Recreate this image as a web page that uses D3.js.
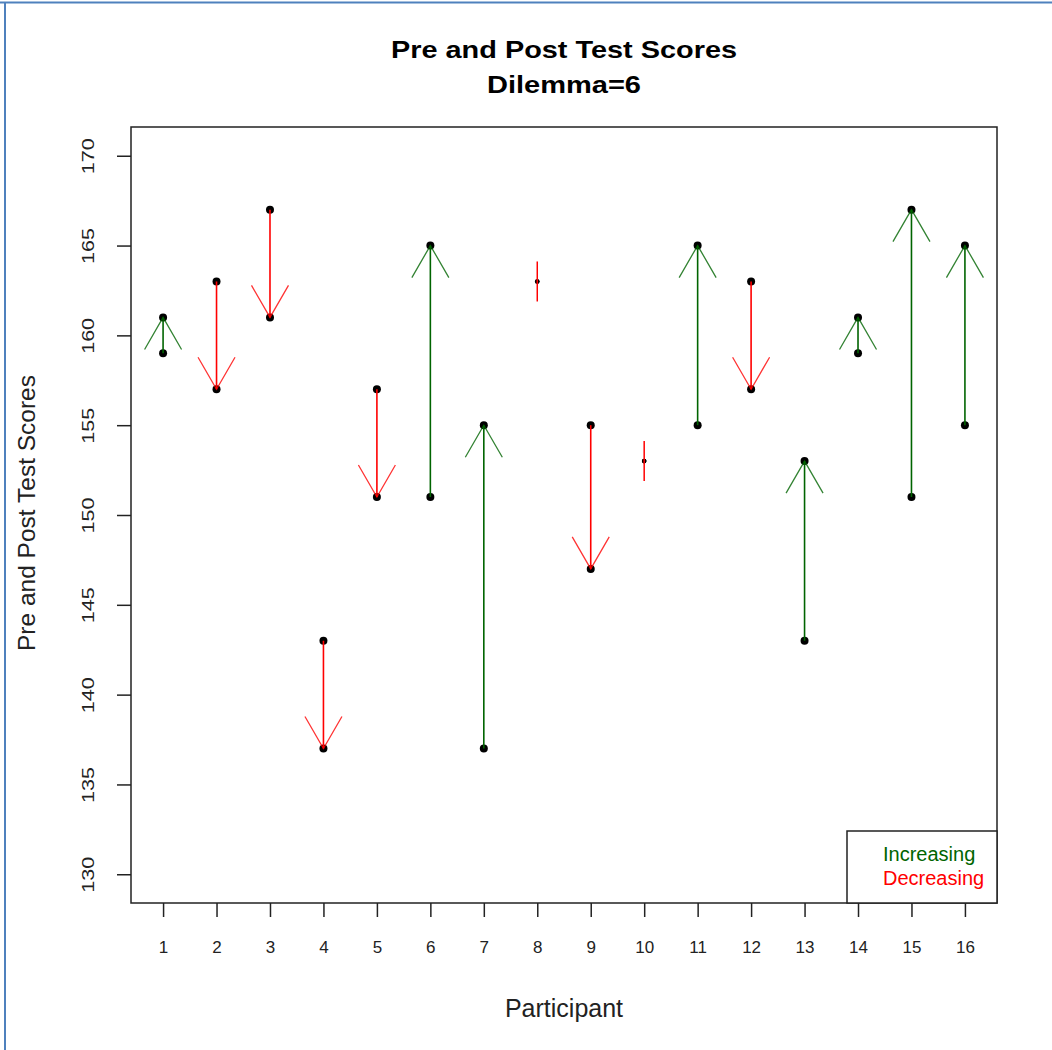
<!DOCTYPE html>
<html><head><meta charset="utf-8">
<script src="https://cdn.jsdelivr.net/npm/d3@7"></script>
<style>body{margin:0;background:#fff}svg{display:block}text{font-family:"Liberation Sans",Arial,sans-serif}</style>
</head><body>
<script>
const participants = [1,2,3,4,5,6,7,8,9,10,11,12,13,14,15,16];
const preScores  = [159,163,167,143,157,151,137,163,155,153,155,163,143,159,151,155];
const postScores = [161,157,161,137,151,165,155,163,147,153,165,157,153,161,167,165];
const yTicks = [130,135,140,145,150,155,160,165,170];
const legendLabels = ["Increasing","Decreasing"];
const colors = {inc:"#006400", dec:"#ff0000"};

const W=1052,H=1050;
const svg=d3.select("body").append("svg").attr("width",W).attr("height",H);
const L=131,R=997,T=127,B=903;

// screenshot frame
svg.append("line").attr("x1",0).attr("x2",W).attr("y1",2.5).attr("y2",2.5).attr("stroke","#4f81bd").attr("stroke-width",2);
svg.append("line").attr("x1",5).attr("x2",5).attr("y1",2).attr("y2",H).attr("stroke","#4f81bd").attr("stroke-width",2);

const x=d3.scaleLinear().domain([0.4,16.6]).range([L,R]);
const y=d3.scaleLinear().domain([128.4,171.6]).range([B,T]);

// title
svg.append("text").attr("x",(L+R)/2).attr("y",58).attr("text-anchor","middle").attr("font-weight","bold").attr("font-size",24)
  .attr("textLength",346).attr("lengthAdjust","spacingAndGlyphs").text("Pre and Post Test Scores");
svg.append("text").attr("x",(L+R)/2).attr("y",93).attr("text-anchor","middle").attr("font-weight","bold").attr("font-size",24)
  .attr("textLength",154).attr("lengthAdjust","spacingAndGlyphs").text("Dilemma=6");

// axes
const xAxis=d3.axisBottom(x).tickValues(participants).tickSize(14).tickSizeOuter(0).tickPadding(24);
const gx=svg.append("g").attr("transform",`translate(0,${B})`).call(xAxis);
gx.select(".domain").remove();
gx.selectAll("line").attr("stroke","#222").attr("stroke-width",1.5);
gx.selectAll("text").attr("font-size",17).attr("fill","#222");

const yAxis=d3.axisLeft(y).tickValues(yTicks).tickSize(14).tickSizeOuter(0);
const gy=svg.append("g").attr("transform",`translate(${L},0)`).call(yAxis);
gy.select(".domain").remove();
gy.selectAll("line").attr("stroke","#222").attr("stroke-width",1.5);
gy.selectAll("text").attr("font-size",16).attr("fill","#222")
  .attr("x",null).attr("dy",null).attr("text-anchor","middle")
  .attr("textLength",36).attr("lengthAdjust","spacingAndGlyphs")
  .attr("transform","translate(-37,0) rotate(-90)").attr("y",0);

svg.append("rect").attr("x",L).attr("y",T).attr("width",R-L).attr("height",B-T).attr("fill","none").attr("stroke","#222").attr("stroke-width",1.5);

svg.append("text").attr("x",(L+R)/2).attr("y",1017).attr("text-anchor","middle").attr("font-size",25).attr("fill","#222").text("Participant");
svg.append("text").attr("transform",`translate(35,513) rotate(-90)`).attr("text-anchor","middle").attr("font-size",24.5).attr("fill","#222").text("Pre and Post Test Scores");

const data=participants.map((p,i)=>({p,pre:preScores[i],post:postScores[i]}));
const g=svg.append("g");

// points
data.forEach(d=>{
  const r = d.pre===d.post?2.3:4;
  [d.pre,d.post].forEach(v=>g.append("circle").attr("cx",x(d.p)).attr("cy",y(v)).attr("r",r).attr("fill","#000"));
});

// arrows
const headLen=37, ang=30*Math.PI/180, stubHalf=20;
data.forEach(d=>{
  const cx=x(d.p), y0=y(d.pre), y1=y(d.post);
  const col = d.post>d.pre?colors.inc:colors.dec;
  if(d.pre===d.post){
    g.append("line").attr("x1",cx).attr("x2",cx).attr("y1",y0-stubHalf).attr("y2",y0+stubHalf).attr("stroke",col).attr("stroke-width",1.5);
    return;
  }
  g.append("line").attr("x1",cx).attr("x2",cx).attr("y1",y0).attr("y2",y1).attr("stroke",col).attr("stroke-width",1.6);
  const dir = y1<y0?1:-1;
  const hx=headLen*Math.sin(ang), hy=headLen*Math.cos(ang)*dir;
  g.append("path").attr("d",`M${cx-hx},${y1+hy}L${cx},${y1}L${cx+hx},${y1+hy}`)
    .attr("fill","none").attr("stroke",col).attr("stroke-width",1.3).attr("stroke-opacity",0.8);
});

// legend
const lg=svg.append("g");
lg.append("rect").attr("x",847).attr("y",831).attr("width",R-847).attr("height",B-831).attr("fill","#fff").attr("stroke","#222").attr("stroke-width",1.5);
legendLabels.forEach((t,i)=>{
  lg.append("text").attr("x",883).attr("y",861+i*24).attr("font-size",20)
    .attr("fill",i===0?colors.inc:colors.dec).text(t);
});
</script>
</body></html>
